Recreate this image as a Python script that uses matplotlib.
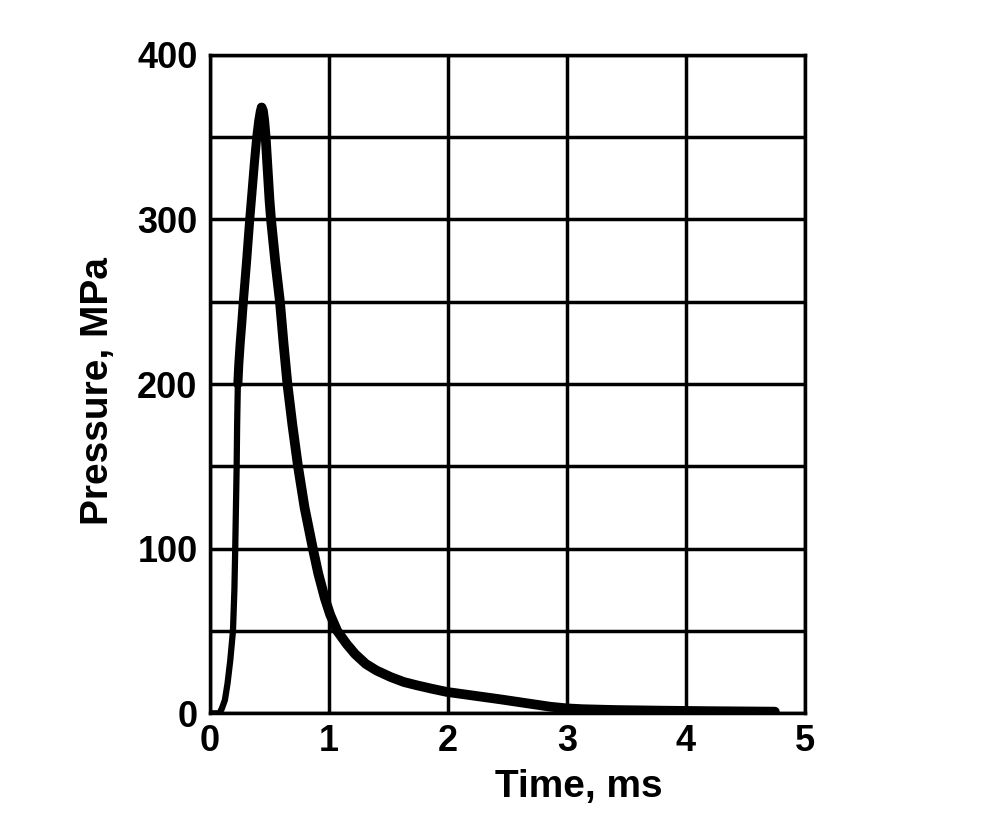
import matplotlib
matplotlib.use("Agg")
import matplotlib.pyplot as plt
from matplotlib.ticker import MultipleLocator

# pressure pulse (time in ms, pressure in MPa)
rise_t = [0.0, 0.08, 0.10, 0.125, 0.147, 0.17, 0.193, 0.205, 0.212, 0.218,
          0.224, 0.228, 0.234, 0.242, 0.254, 0.267, 0.28, 0.308, 0.334, 0.357,
          0.374, 0.393, 0.41, 0.424, 0.434]
rise_p = [0, 0, 3, 8, 18, 32, 50, 75, 100, 125,
          150, 175, 200, 212, 225, 237, 250, 275, 300, 320,
          335, 350, 360, 366, 368]

fall_t = [0.434, 0.445, 0.456, 0.468, 0.478, 0.489, 0.50, 0.513, 0.548, 0.588,
          0.618, 0.651, 0.693, 0.74, 0.795, 0.865, 0.91, 0.965, 1.01, 1.07,
          1.15, 1.22, 1.31, 1.40, 1.52, 1.63, 1.74, 1.86, 1.99, 2.14,
          2.29, 2.44, 2.58, 2.72, 2.86, 3.0, 3.13, 3.4, 3.8, 4.2, 4.75]
fall_p = [368, 366, 360, 350, 338, 325, 312, 300, 275, 250,
          225, 200, 175, 150, 125, 100, 85, 70, 60, 50,
          42, 36, 30, 26, 22, 19, 17, 15, 13, 11.5,
          10, 8.5, 7, 5.5, 4, 3, 2.5, 2, 1.6, 1.3, 1]

plt.rcParams['font.family'] = ['Liberation Sans', 'DejaVu Sans']
plt.rcParams['font.weight'] = 'bold'

fig = plt.figure(figsize=(9.86, 8.18), dpi=100)
ax = fig.add_axes([0.213, 0.128, 0.603, 0.805])

# the trace gets heavier towards the peak
k = rise_p.index(200)
line_kw = dict(color='black', solid_capstyle='round', solid_joinstyle='round', zorder=3)
ax.plot(rise_t[:k + 1], rise_p[:k + 1], lw=4.5, **line_kw)
ax.plot(rise_t[k:], rise_p[k:], lw=6.5, **line_kw)
ax.plot(fall_t, fall_p, lw=7, **line_kw)

ax.set_xlim(0, 5)
ax.set_ylim(0, 400)
ax.xaxis.set_major_locator(MultipleLocator(1))
ax.yaxis.set_major_locator(MultipleLocator(100))
ax.yaxis.set_minor_locator(MultipleLocator(50))

ax.grid(True, which='both', color='black', lw=2.5)
ax.set_axisbelow(True)
for s in ax.spines.values():
    s.set_linewidth(2.5)

ax.tick_params(which='both', length=0)
ax.tick_params(axis='x', labelsize=26, pad=8)
ax.tick_params(axis='y', labelsize=26, pad=9)
for lab in ax.get_xticklabels() + ax.get_yticklabels():
    lab.set_fontweight('bold')

ax.set_xlabel('Time, ms', fontsize=28, fontweight='bold')
ax.set_ylabel('Pressure, MPa', fontsize=28, fontweight='bold')
ax.xaxis.set_label_coords(0.62, -0.085)
ax.yaxis.set_label_coords(-0.158, 0.49)

fig.savefig('out.png', dpi=100)
